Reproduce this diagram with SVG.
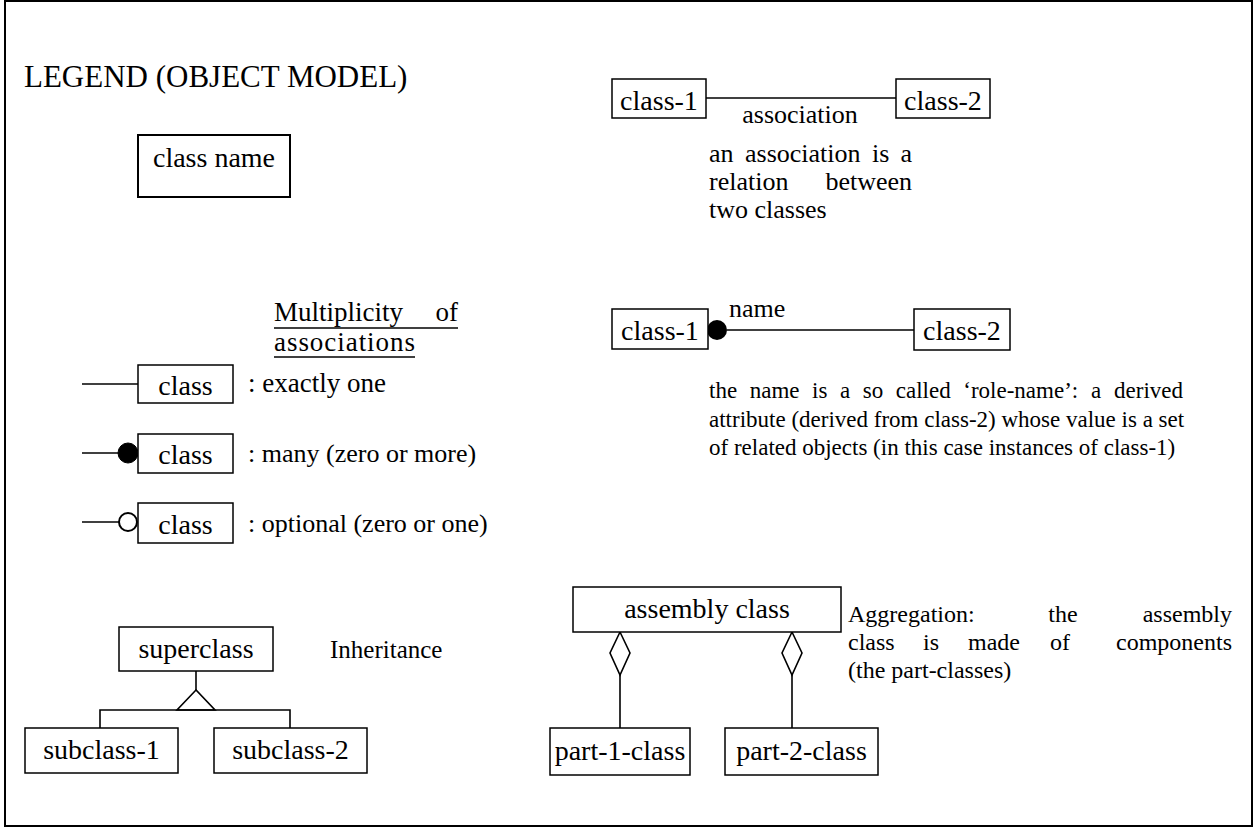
<svg xmlns="http://www.w3.org/2000/svg" width="1254" height="828" viewBox="0 0 1254 828">
<style>
.t{font-family:"Liberation Serif","Times New Roman",serif;fill:#000}
.c{font-size:28px}
.b{font-size:26px}
.box{fill:#fff;stroke:#000;stroke-width:1.5}
.ln{fill:none;stroke:#000;stroke-width:1.6}
.mid{text-anchor:middle}
.end{text-anchor:end}
</style>
<rect x="5" y="1" width="1247" height="825" fill="#fff" stroke="#000" stroke-width="2"/>
<text class="t" x="24" y="87" font-size="31">LEGEND (OBJECT MODEL)</text>

<g id="connectors">
  <line class="ln" x1="706" y1="98" x2="896" y2="98"/>
  <line class="ln" x1="82" y1="384" x2="138" y2="384"/>
  <line class="ln" x1="82" y1="453" x2="120" y2="453"/>
  <circle cx="128" cy="453" r="10" fill="#000" stroke="#000" stroke-width="1"/>
  <line class="ln" x1="82" y1="522" x2="119" y2="522"/>
  <circle cx="128" cy="522" r="9" fill="#fff" stroke="#000" stroke-width="2"/>
  <circle cx="717" cy="330" r="10" fill="#000"/>
  <line class="ln" x1="727" y1="330" x2="914" y2="330"/>
  <line class="ln" x1="196" y1="671" x2="196" y2="690"/>
  <path class="ln" d="M196 690 L177 710 L215 710 Z"/>
  <path class="ln" d="M100 728 V710 H290 V728"/>
  <path class="ln" stroke-width="2" fill="#fff" d="M620 632 L630 653 L620 675 L610 653 Z"/>
  <line class="ln" x1="620" y1="675" x2="620" y2="728"/>
  <path class="ln" stroke-width="2" fill="#fff" d="M792 632 L802 653 L792 675 L782 653 Z"/>
  <line class="ln" x1="792" y1="675" x2="792" y2="728"/>
</g>

<g id="class-name">
  <rect x="138" y="135" width="152" height="62" fill="#fff" stroke="#000" stroke-width="2"/>
  <text class="t c mid" x="214" y="167">class name</text>
</g>

<g id="assoc-class-1">
  <rect class="box" x="612" y="79" width="94" height="39"/>
  <text class="t c mid" x="659" y="110">class-1</text>
</g>
<g id="assoc-class-2">
  <rect class="box" x="896" y="79" width="94" height="39"/>
  <text class="t c mid" x="943" y="110">class-2</text>
</g>
<text class="t b mid" x="800" y="123">association</text>
<g id="assoc-desc" class="t b">
  <text y="162"><tspan x="709">an</tspan><tspan x="745">association</tspan><tspan x="872">is</tspan><tspan x="900.5">a</tspan></text>
  <text y="190"><tspan x="709">relation</tspan></text>
  <text class="end" x="912" y="190">between</text>
  <text x="709" y="218">two classes</text>
</g>

<g id="multiplicity-title" class="t" font-size="27">
  <text x="274" y="321">Multiplicity</text>
  <text class="end" x="458" y="321">of</text>
  <text x="274" y="351" textLength="141" lengthAdjust="spacing">associations</text>
  <line x1="274" y1="328" x2="458" y2="328" stroke="#000" stroke-width="1.5"/>
  <line x1="274" y1="357" x2="415" y2="357" stroke="#000" stroke-width="1.5"/>
</g>

<g id="mult-one">
  <rect class="box" x="138" y="365" width="95" height="38"/>
  <text class="t c mid" x="185.5" y="395">class</text>
  <text class="t" font-size="27" x="248" y="392">: exactly one</text>
</g>
<g id="mult-many">
  <rect class="box" x="138" y="434" width="95" height="39"/>
  <text class="t c mid" x="185.5" y="464">class</text>
  <text class="t b" x="248" y="462">: many (zero or more)</text>
</g>
<g id="mult-optional">
  <rect class="box" x="138" y="503" width="95" height="40"/>
  <text class="t c mid" x="185.5" y="534">class</text>
  <text class="t b" x="248" y="532">: optional (zero or one)</text>
</g>

<g id="role-class-1">
  <rect class="box" x="612" y="309" width="96" height="40"/>
  <text class="t c mid" x="660" y="340">class-1</text>
</g>
<g id="role-class-2">
  <rect class="box" x="914" y="309" width="96" height="41"/>
  <text class="t c mid" x="962" y="340">class-2</text>
</g>
<text class="t b" x="729" y="317">name</text>
<g id="role-desc" class="t" font-size="23">
  <text y="398"><tspan x="709">the</tspan><tspan x="749.7">name</tspan><tspan x="812.1">is</tspan><tspan x="840">a</tspan><tspan x="862.8">so</tspan><tspan x="895.8">called</tspan><tspan x="963.3">‘role-name’:</tspan><tspan x="1090.9">a</tspan></text>
  <text class="end" x="1183" y="398">derived</text>
  <text x="709" y="427">attribute (derived from class-2) whose value is a set</text>
  <text x="709" y="455">of related objects (in this case instances of class-1)</text>
</g>

<g id="superclass">
  <rect class="box" x="119" y="627" width="154" height="44"/>
  <text class="t c mid" x="196" y="658">superclass</text>
</g>
<text class="t" font-size="25" x="330" y="658">Inheritance</text>
<g id="subclass-1">
  <rect class="box" x="25" y="728" width="153" height="45"/>
  <text class="t c mid" x="101.5" y="759">subclass-1</text>
</g>
<g id="subclass-2">
  <rect class="box" x="214" y="728" width="153" height="45"/>
  <text class="t c mid" x="290.5" y="759">subclass-2</text>
</g>

<g id="assembly-class">
  <rect class="box" x="573" y="587" width="268" height="45"/>
  <text class="t c mid" x="707" y="618">assembly class</text>
</g>
<g id="part-1-class">
  <rect class="box" x="550" y="728" width="140" height="47"/>
  <text class="t c mid" x="620" y="760">part-1-class</text>
</g>
<g id="part-2-class">
  <rect class="box" x="725" y="728" width="153" height="47"/>
  <text class="t c mid" x="801.5" y="760">part-2-class</text>
</g>
<g id="aggregation-desc" class="t" font-size="24">
  <text x="848" y="622">Aggregation:</text>
  <text class="mid" x="1063" y="622">the</text>
  <text class="end" x="1232" y="622">assembly</text>
  <text y="650"><tspan x="848">class</tspan><tspan x="923">is</tspan><tspan x="968">made</tspan><tspan x="1050">of</tspan></text>
  <text class="end" x="1232" y="650">components</text>
  <text x="848" y="678">(the part-classes)</text>
</g>
</svg>
